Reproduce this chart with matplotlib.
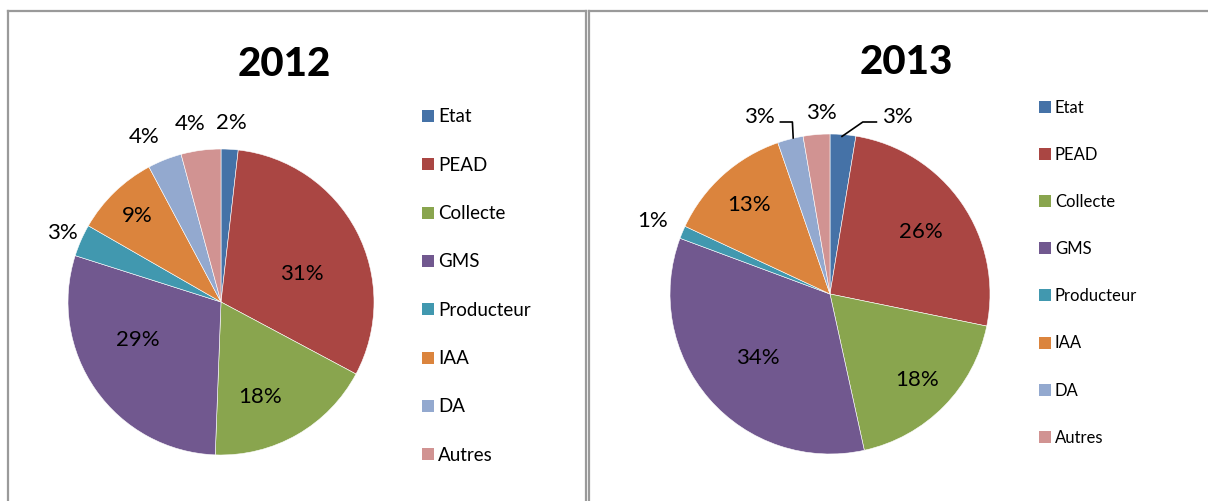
import numpy as np
import matplotlib
matplotlib.use("Agg")
import matplotlib.pyplot as plt
from matplotlib.lines import Line2D

plt.rcParams['font.family'] = ['Lato', 'DejaVu Sans']

categories = ["Etat", "PEAD", "Collecte", "GMS", "Producteur", "IAA", "DA", "Autres"]
values_2012 = [1.8, 31.0, 17.8, 29.3, 3.4, 8.9, 3.6, 4.2]
values_2013 = [2.6, 25.7, 18.4, 34.2, 1.3, 12.8, 2.6, 2.7]
titles = ["2012", "2013"]

colors = ["#4572A7", "#AA4643", "#89A54E", "#71588F", "#4198AF", "#DB843D", "#93A9CF", "#D19392"]

W, H = 1208, 502
fig = plt.figure(figsize=(W / 100, H / 100), dpi=100)
fig.patch.set_facecolor("white")


def fx(px):
    return px / W


def fy(py):
    return 1 - py / H


# panel borders
bc = "#9a9a9a"
for xs, ys in [([8, 8], [12, H + 5]), ([8, 586], [12, 12]), ([586, 586], [12, H + 5]),
               ([589, 589], [12, H + 5]), ([589, W + 5], [12, 12])]:
    fig.add_artist(Line2D([fx(x) for x in xs], [fy(y) for y in ys], color=bc, lw=1.6,
                          transform=fig.transFigure))

# label placement: (radial distance, angle offset in degrees from wedge middle)
panels = [
    dict(vals=values_2012, cx=221, cy=303, r=153, title_xy=(284, 65),
         leg_x=422, leg_y0=117, leg_dy=48.3, leg_fs=13.5,
         place=[(1.18, 0), (0.56, -8), (0.665, -7.5), (0.594, -11), (1.13, 0),
                (0.79, 0), (1.196, 3.3), (1.19, 2.2)],
         leaders={}),
    dict(vals=values_2013, cx=830, cy=295, r=160, title_xy=(906, 63),
         leg_x=1039, leg_y0=108, leg_dy=47.1, leg_fs=12,
         place=[(1.2, 0), (0.69, 0), (0.76, 0), (0.6, 0), (1.2, 0),
                (0.76, 0), (1.2, 0), (1.14, -2)],
         leaders={0: ((0.075, 0.985), (0.205, 1.075), (0.29, 1.075), (0.42, 1.11)),
                  6: ((-0.23, 0.975), (-0.235, 1.075), (-0.31, 1.075), (-0.44, 1.11))}),
]

for title, p in zip(titles, panels):
    cx, cy, r = p["cx"], p["cy"], p["r"]
    ax = fig.add_axes([fx(cx - r), fy(cy + r), 2 * r / W, 2 * r / H])
    wedges, _ = ax.pie(p["vals"], colors=colors, startangle=90, counterclock=False,
                       radius=1.0, wedgeprops=dict(edgecolor="white", linewidth=0.4))
    ax.set_xlim(-1, 1)
    ax.set_ylim(-1, 1)
    ax.set_aspect("auto")
    ax.axis("off")
    total = sum(p["vals"])
    for i, w in enumerate(wedges):
        pct = p["vals"][i] / total * 100
        txt = f"{pct:.0f}%"
        if i in p["leaders"]:
            a, b, c, t = p["leaders"][i]
            ax.add_line(Line2D([a[0], b[0], c[0]], [a[1], b[1], c[1]], color="black", lw=1.2,
                               clip_on=False))
            ax.text(t[0], t[1], txt, ha="center", va="center", fontsize=16, clip_on=False)
            continue
        d, off = p["place"][i]
        ang = np.deg2rad((w.theta1 + w.theta2) / 2 + off)
        ax.text(d * np.cos(ang), d * np.sin(ang), txt, ha="center", va="center",
                fontsize=16, clip_on=False)

    fig.text(fx(p["title_xy"][0]), fy(p["title_xy"][1]), title, ha="center", va="center",
             fontsize=29, fontweight="black")

    for i, (cat, col) in enumerate(zip(categories, colors)):
        y = p["leg_y0"] + i * p["leg_dy"]
        fig.add_artist(plt.Rectangle((fx(p["leg_x"]), fy(y + 6)), 12 / W, 12 / H,
                                     facecolor=col, edgecolor="none",
                                     transform=fig.transFigure))
        fig.text(fx(p["leg_x"] + 16), fy(y), cat, ha="left", va="center",
                 fontsize=p["leg_fs"])

fig.savefig("out.png", dpi=100, facecolor="white")
